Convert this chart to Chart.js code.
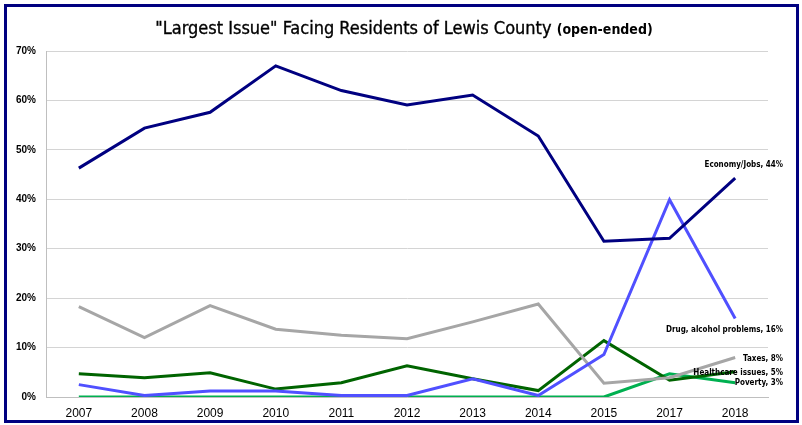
<!DOCTYPE html>
<html>
<head>
<meta charset="utf-8">
<script src="https://cdn.jsdelivr.net/npm/chart.js@4/dist/chart.umd.min.js"></script>
<style>
  html, body { margin: 0; padding: 0; background: #fff; }
  body { width: 802px; height: 425px; position: relative; overflow: hidden; }
  #frame {
    position: absolute; left: 4px; top: 4px; width: 789px; height: 413px;
    border: 3px solid #000080;
  }
  #title {
    position: absolute; left: 0; top: 17px; width: 808px; text-align: center;
    font-family: "Liberation Sans Narrow", "DejaVu Sans Condensed", sans-serif;
    font-size: 18px; color: #000; white-space: nowrap;
    -webkit-text-stroke: 0.35px #000;
  }
  #title small { font-size: 14px; font-weight: bold; -webkit-text-stroke: 0; }
  #wrap { position: absolute; left: 0; top: 0; width: 802px; height: 425px; }
</style>
</head>
<body>
<div id="frame"></div>
<div id="wrap"><canvas id="chart" width="802" height="425"></canvas></div>
<div id="title">"Largest Issue" Facing Residents of Lewis County <small>(open-ended)</small></div>
<script>
// categories (2016 is missing in the survey)
const years = ['2007', '2008', '2009', '2010', '2011', '2012', '2013', '2014', '2015', '2017', '2018'];

// percent of residents naming each issue
const economyJobs = [46.3, 54.4, 57.6, 67.0, 62.0, 59.1, 61.1, 52.8, 31.5, 32.1, 44.3];
const drugAlcohol = [2.5, 0.3, 1.2, 1.2, 0.3, 0.3, 3.7, 0.3, 8.6, 39.9, 15.9];
const taxes = [18.3, 12.0, 18.5, 13.7, 12.5, 11.8, 15.2, 18.8, 2.8, 3.9, 8.0];
const healthcare = [4.7, 3.9, 4.9, 1.6, 2.9, 6.3, 3.7, 1.3, 11.4, 3.4, 5.1];
const poverty = [0, 0, 0, 0, 0, 0, 0, 0, 0, 4.7, 2.9];

const seriesNames = ['Economy/Jobs', 'Drug, alcohol problems', 'Taxes', 'Healthcare issues', 'Poverty'];
const endLabels = ['Economy/Jobs, 44%', 'Drug, alcohol problems, 16%', 'Taxes, 8%', 'Healthcare issues, 5%', 'Poverty, 3%'];
const yTicks = [0, 10, 20, 30, 40, 50, 60, 70];

// text next to the last point of each line
const endLabelPlugin = {
  id: 'endLabels',
  afterDatasetsDraw(chart) {
    const ctx = chart.ctx;
    const offsets = [-13, 12, 1, 1, 0];
    ctx.save();
    ctx.font = 'bold 8px "Liberation Sans Narrow", "DejaVu Sans Condensed", sans-serif';
    ctx.fillStyle = '#000';
    ctx.textAlign = 'right';
    ctx.textBaseline = 'middle';
    chart.data.datasets.forEach((ds, i) => {
      const pts = chart.getDatasetMeta(i).data;
      const last = pts[pts.length - 1];
      ctx.fillText(endLabels[i], chart.chartArea.right + 15, last.y + offsets[i]);
    });
    ctx.restore();
  }
};

const colors = ['#000080', '#5050ff', '#a6a6a6', '#006400', '#00b050'];
const values = [economyJobs, drugAlcohol, taxes, healthcare, poverty];

new Chart(document.getElementById('chart'), {
  type: 'line',
  data: {
    labels: years,
    datasets: values.map((v, i) => ({
      label: seriesNames[i],
      data: v,
      borderColor: colors[i],
      backgroundColor: colors[i],
      borderWidth: 3,
      pointRadius: 0,
      tension: 0,
      fill: false
    }))
  },
  options: {
    responsive: false,
    animation: false,
    layout: { padding: { left: 0, right: 34, top: 51, bottom: 0 } },
    plugins: {
      legend: { display: false },
      tooltip: { enabled: false }
    },
    scales: {
      x: {
        offset: true,
        grid: { color: 'transparent', drawTicks: false },
        border: { color: '#bfbfbf', width: 1 },
        ticks: {
          padding: 9,
          color: '#000',
          font: { family: '"Liberation Sans", Arial, sans-serif', size: 12 }
        },
        afterFit(scale) { scale.height = 28; }
      },
      y: {
        min: 0,
        max: 70,
        afterBuildTicks(scale) { scale.ticks = yTicks.map(v => ({ value: v })); },
        grid: { color: '#d4d4d4', drawTicks: false },
        border: { color: '#bfbfbf', width: 1 },
        ticks: {
          padding: 10,
          color: '#000',
          font: { family: '"Liberation Sans", Arial, sans-serif', size: 10, weight: 'bold' },
          callback: v => v + '%'
        },
        afterFit(scale) { scale.width = 46; }
      }
    }
  },
  plugins: [endLabelPlugin]
});
</script>
</body>
</html>
